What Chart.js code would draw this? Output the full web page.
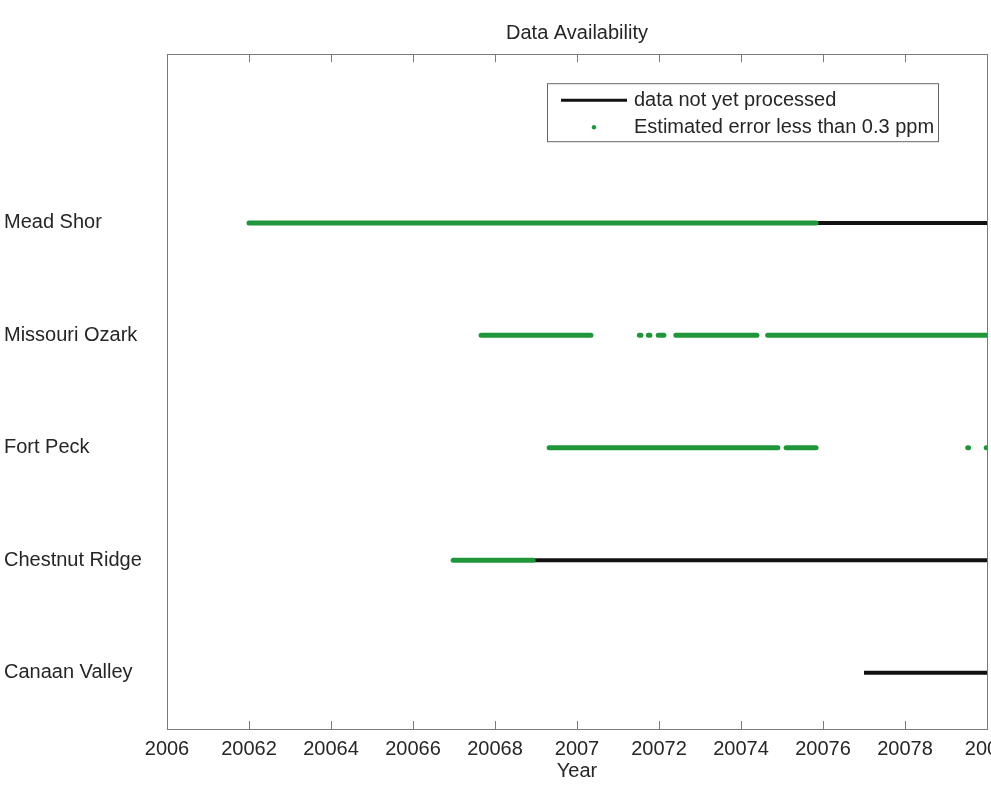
<!DOCTYPE html>
<html>
<head>
<meta charset="utf-8">
<script src="https://cdn.jsdelivr.net/npm/chart.js@4.4.0/dist/chart.umd.min.js"></script>
<style>
  html, body { margin: 0; padding: 0; background: #fff; overflow: hidden; }
  #wrap { width: 1027px; height: 798px; }
</style>
</head>
<body>
<div id="wrap"><canvas id="chart" width="1027" height="798"></canvas></div>
<script>
// stations from bottom (y = 1) to top (y = 5)
const stationNames = ['Canaan Valley', 'Chestnut Ridge', 'Fort Peck', 'Missouri Ozark', 'Mead Shor'];
const xTicks = [2006, 2006.2, 2006.4, 2006.6, 2006.8, 2007, 2007.2, 2007.4, 2007.6, 2007.8, 2008];

// green = estimated error less than 0.3 ppm, black = data not yet processed
const meadShorGood = [[2006.200, 2007.583]];
const meadShorPending = [[2007.583, 2008.000]];
const missouriGood = [[2006.766, 2007.034], [2007.152, 2007.156], [2007.174, 2007.178], [2007.198, 2007.212], [2007.241, 2007.439], [2007.465, 2008.000]];
const fortPeckGood = [[2006.932, 2007.490], [2007.510, 2007.583], [2007.953, 2007.955], [2007.998, 2008.000]];
const chestnutGood = [[2006.698, 2006.893]];
const chestnutPending = [[2006.893, 2008.000]];
const canaanPending = [[2007.700, 2008.000]];

const green = '#1e9639';
const axisGrey = '#7a7a7a';

Chart.defaults.font.family = "'Liberation Sans', Arial, sans-serif";
Chart.defaults.font.size = 20;
Chart.defaults.color = '#262626';

function toPoints(ranges, y) {
  const pts = [];
  ranges.forEach(([a, b], i) => {
    if (i) pts.push({ x: null, y: null });
    pts.push({ x: a, y: y }, { x: b, y: y });
  });
  return pts;
}

function goodSet(ranges, y) {
  return { data: toPoints(ranges, y), borderColor: green, borderWidth: 5, borderCapStyle: 'round', pointRadius: 0, spanGaps: false };
}
function pendingSet(ranges, y) {
  return { data: toPoints(ranges, y), borderColor: '#111', borderWidth: 4, borderCapStyle: 'butt', pointRadius: 0, spanGaps: false };
}

// first datasets are drawn on top
const datasets = [
  goodSet(meadShorGood, 5),
  goodSet(missouriGood, 4),
  goodSet(fortPeckGood, 3),
  goodSet(chestnutGood, 2),
  pendingSet(meadShorPending, 5),
  pendingSet(chestnutPending, 2),
  pendingSet(canaanPending, 1)
];

const innerTicks = {
  id: 'innerTicks',
  afterDraw(chart) {
    const { ctx, chartArea, scales } = chart;
    ctx.save();
    ctx.strokeStyle = axisGrey;
    ctx.lineWidth = 1;
    xTicks.slice(1, -1).forEach(v => {
      const px = Math.round(scales.x.getPixelForValue(v)) + 0.5;
      ctx.beginPath();
      ctx.moveTo(px, chartArea.bottom);
      ctx.lineTo(px, chartArea.bottom - 8);
      ctx.moveTo(px, chartArea.top);
      ctx.lineTo(px, chartArea.top + 8);
      ctx.stroke();
    });
    ctx.restore();
  }
};

const boxLegend = {
  id: 'boxLegend',
  afterDraw(chart) {
    const { ctx, chartArea } = chart;
    const x = chartArea.right - 440, y = chartArea.top + 29, w = 391, h = 58;
    ctx.save();
    ctx.fillStyle = '#fff';
    ctx.fillRect(x, y, w, h);
    ctx.strokeStyle = '#666';
    ctx.lineWidth = 1;
    ctx.strokeRect(x + 0.5, y + 0.5, w, h);
    ctx.strokeStyle = '#111';
    ctx.lineWidth = 3;
    ctx.beginPath();
    ctx.moveTo(x + 14, y + 17);
    ctx.lineTo(x + 80, y + 17);
    ctx.stroke();
    ctx.fillStyle = green;
    ctx.beginPath();
    ctx.arc(x + 47, y + 44, 2.2, 0, Math.PI * 2);
    ctx.fill();
    ctx.fillStyle = '#262626';
    ctx.font = "20px 'Liberation Sans', Arial, sans-serif";
    ctx.textBaseline = 'middle';
    ctx.fillText('data not yet processed', x + 87, y + 17);
    ctx.fillText('Estimated error less than 0.3 ppm', x + 87, y + 44);
    ctx.restore();
  }
};

new Chart(document.getElementById('chart'), {
  type: 'line',
  data: { datasets: datasets },
  options: {
    responsive: false,
    animation: false,
    layout: { padding: { left: 4, right: 40, top: 0, bottom: 0 } },
    plugins: { legend: { display: false }, title: { display: false }, tooltip: { enabled: false } },
    scales: {
      x: {
        type: 'linear', position: 'bottom', min: 2006, max: 2008,
        afterBuildTicks: s => { s.ticks = xTicks.map(v => ({ value: v })); },
        afterFit: s => { s.height = 69; },
        ticks: {
          padding: 8, maxRotation: 0, autoSkip: false,
          callback: v => String(Math.round(v * 10) / 10).replace('.', '')
        },
        grid: { display: false, drawTicks: false },
        border: { color: axisGrey, width: 1 },
        title: { display: true, text: 'Year', padding: { top: 0, bottom: 15 } }
      },
      x2: {
        type: 'linear', position: 'top', min: 2006, max: 2008,
        ticks: { display: false },
        grid: { display: false, drawTicks: false },
        border: { color: axisGrey, width: 1 },
        title: { display: true, text: 'Data Availability', padding: { top: 21.4, bottom: 8.8 } }
      },
      y: {
        type: 'linear', position: 'left', min: 0.5, max: 6.5,
        afterBuildTicks: s => { s.ticks = stationNames.map((n, i) => ({ value: i + 1 })); },
        afterFit: s => { s.width = 163; },
        ticks: { crossAlign: 'far', callback: v => stationNames[v - 1] },
        grid: { display: false, drawTicks: false },
        border: { color: axisGrey, width: 1 }
      },
      y2: {
        type: 'linear', position: 'right', min: 0.5, max: 6.5,
        ticks: { display: false },
        grid: { display: false, drawTicks: false },
        border: { color: axisGrey, width: 1 }
      }
    }
  },
  plugins: [innerTicks, boxLegend]
});
</script>
</body>
</html>
